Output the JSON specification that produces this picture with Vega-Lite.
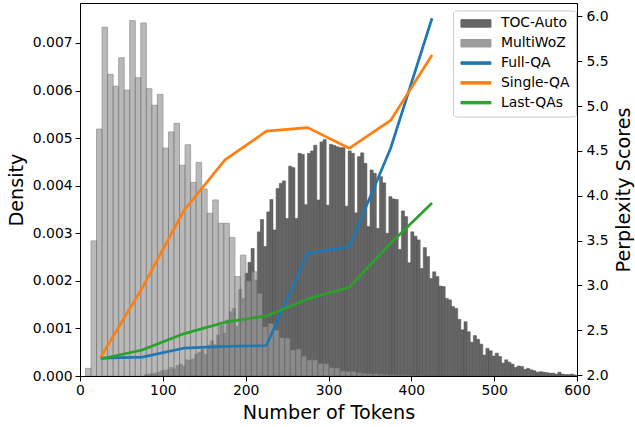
{
  "$schema": "https://vega.github.io/schema/vega-lite/v6.json",
  "width": 497,
  "height": 373,
  "autosize": {"type": "none"},
  "padding": {"left": 80, "top": 3, "right": 58, "bottom": 51},
  "background": "white",
  "config": {
    "font": "DejaVu Sans",
    "view": {"stroke": "black", "strokeWidth": 1},
    "axis": {
      "grid": false,
      "labelFont": "DejaVu Sans",
      "labelFontSize": 13.9,
      "labelColor": "black",
      "tickColor": "black",
      "tickSize": 4.9,
      "tickWidth": 1,
      "domainColor": "black",
      "domainWidth": 1,
      "titleFont": "DejaVu Sans",
      "titleFontSize": 19.2,
      "titleFontWeight": "normal",
      "titleColor": "black",
      "labelFlush": false,
      "labelOverlap": false,
      "labelBound": false
    },
    "legend": {
      "orient": "none", "legendX": 373, "legendY": 7.5, "title": null,
      "symbolSize": 100, "symbolType": "M-1,-0.75H5V0.75H-1Z",
      "labelOffset": 28, "rowPadding": 4.8, "padding": 6,
      "labelFont": "DejaVu Sans", "labelFontSize": 13.9, "labelColor": "black",
      "strokeColor": "#cccccc", "fillColor": "rgba(255,255,255,0.8)", "cornerRadius": 3
    }
  },
  "datasets": {
    "toc": [
      {"series":"TOC-Auto","x0":78.00,"x1":81.78,"density":0.00003},
      {"series":"TOC-Auto","x0":81.78,"x1":85.56,"density":0.00004},
      {"series":"TOC-Auto","x0":85.56,"x1":89.34,"density":0.00005},
      {"series":"TOC-Auto","x0":89.34,"x1":93.12,"density":0.00006},
      {"series":"TOC-Auto","x0":93.12,"x1":96.90,"density":0.00008},
      {"series":"TOC-Auto","x0":96.90,"x1":100.68,"density":0.00011},
      {"series":"TOC-Auto","x0":100.68,"x1":104.46,"density":0.00012},
      {"series":"TOC-Auto","x0":104.46,"x1":108.24,"density":0.00013},
      {"series":"TOC-Auto","x0":108.24,"x1":112.02,"density":0.00018},
      {"series":"TOC-Auto","x0":112.02,"x1":115.80,"density":0.00015},
      {"series":"TOC-Auto","x0":115.80,"x1":119.58,"density":0.00022},
      {"series":"TOC-Auto","x0":119.58,"x1":123.36,"density":0.00025},
      {"series":"TOC-Auto","x0":123.36,"x1":127.14,"density":0.00021},
      {"series":"TOC-Auto","x0":127.14,"x1":130.92,"density":0.00034},
      {"series":"TOC-Auto","x0":130.92,"x1":134.70,"density":0.00033},
      {"series":"TOC-Auto","x0":134.70,"x1":138.48,"density":0.00036},
      {"series":"TOC-Auto","x0":138.48,"x1":142.26,"density":0.00046},
      {"series":"TOC-Auto","x0":142.26,"x1":146.04,"density":0.00050},
      {"series":"TOC-Auto","x0":146.04,"x1":149.82,"density":0.00056},
      {"series":"TOC-Auto","x0":149.82,"x1":153.60,"density":0.00046},
      {"series":"TOC-Auto","x0":153.60,"x1":157.38,"density":0.00065},
      {"series":"TOC-Auto","x0":157.38,"x1":161.16,"density":0.00074},
      {"series":"TOC-Auto","x0":161.16,"x1":164.94,"density":0.00066},
      {"series":"TOC-Auto","x0":164.94,"x1":168.72,"density":0.00086},
      {"series":"TOC-Auto","x0":168.72,"x1":172.50,"density":0.00107},
      {"series":"TOC-Auto","x0":172.50,"x1":176.28,"density":0.00090},
      {"series":"TOC-Auto","x0":176.28,"x1":180.06,"density":0.00118},
      {"series":"TOC-Auto","x0":180.06,"x1":183.84,"density":0.00135},
      {"series":"TOC-Auto","x0":183.84,"x1":187.62,"density":0.00142},
      {"series":"TOC-Auto","x0":187.62,"x1":191.40,"density":0.00105},
      {"series":"TOC-Auto","x0":191.40,"x1":195.18,"density":0.00182},
      {"series":"TOC-Auto","x0":195.18,"x1":198.96,"density":0.00163},
      {"series":"TOC-Auto","x0":198.96,"x1":202.74,"density":0.00216},
      {"series":"TOC-Auto","x0":202.74,"x1":206.52,"density":0.00239},
      {"series":"TOC-Auto","x0":206.52,"x1":210.30,"density":0.00268},
      {"series":"TOC-Auto","x0":210.30,"x1":214.08,"density":0.00202},
      {"series":"TOC-Auto","x0":214.08,"x1":217.86,"density":0.00303},
      {"series":"TOC-Auto","x0":217.86,"x1":221.64,"density":0.00329},
      {"series":"TOC-Auto","x0":221.64,"x1":225.42,"density":0.00272},
      {"series":"TOC-Auto","x0":225.42,"x1":229.20,"density":0.00345},
      {"series":"TOC-Auto","x0":229.20,"x1":232.98,"density":0.00371},
      {"series":"TOC-Auto","x0":232.98,"x1":236.76,"density":0.00307},
      {"series":"TOC-Auto","x0":236.76,"x1":240.54,"density":0.00394},
      {"series":"TOC-Auto","x0":240.54,"x1":244.32,"density":0.00405},
      {"series":"TOC-Auto","x0":244.32,"x1":248.10,"density":0.00410},
      {"series":"TOC-Auto","x0":248.10,"x1":251.88,"density":0.00331},
      {"series":"TOC-Auto","x0":251.88,"x1":255.66,"density":0.00441},
      {"series":"TOC-Auto","x0":255.66,"x1":259.44,"density":0.00438},
      {"series":"TOC-Auto","x0":259.44,"x1":263.22,"density":0.00331},
      {"series":"TOC-Auto","x0":263.22,"x1":267.00,"density":0.00468},
      {"series":"TOC-Auto","x0":267.00,"x1":270.78,"density":0.00466},
      {"series":"TOC-Auto","x0":270.78,"x1":274.56,"density":0.00360},
      {"series":"TOC-Auto","x0":274.56,"x1":278.34,"density":0.00468},
      {"series":"TOC-Auto","x0":278.34,"x1":282.12,"density":0.00473},
      {"series":"TOC-Auto","x0":282.12,"x1":285.90,"density":0.00485},
      {"series":"TOC-Auto","x0":285.90,"x1":289.68,"density":0.00370},
      {"series":"TOC-Auto","x0":289.68,"x1":293.46,"density":0.00492},
      {"series":"TOC-Auto","x0":293.46,"x1":297.24,"density":0.00497},
      {"series":"TOC-Auto","x0":297.24,"x1":301.02,"density":0.00359},
      {"series":"TOC-Auto","x0":301.02,"x1":304.80,"density":0.00487},
      {"series":"TOC-Auto","x0":304.80,"x1":308.58,"density":0.00485},
      {"series":"TOC-Auto","x0":308.58,"x1":312.36,"density":0.00482},
      {"series":"TOC-Auto","x0":312.36,"x1":316.14,"density":0.00480},
      {"series":"TOC-Auto","x0":316.14,"x1":319.92,"density":0.00480},
      {"series":"TOC-Auto","x0":319.92,"x1":323.70,"density":0.00357},
      {"series":"TOC-Auto","x0":323.70,"x1":327.48,"density":0.00473},
      {"series":"TOC-Auto","x0":327.48,"x1":331.26,"density":0.00468},
      {"series":"TOC-Auto","x0":331.26,"x1":335.04,"density":0.00343},
      {"series":"TOC-Auto","x0":335.04,"x1":338.82,"density":0.00461},
      {"series":"TOC-Auto","x0":338.82,"x1":342.60,"density":0.00469},
      {"series":"TOC-Auto","x0":342.60,"x1":346.38,"density":0.00447},
      {"series":"TOC-Auto","x0":346.38,"x1":350.16,"density":0.00314},
      {"series":"TOC-Auto","x0":350.16,"x1":353.94,"density":0.00433},
      {"series":"TOC-Auto","x0":353.94,"x1":357.72,"density":0.00426},
      {"series":"TOC-Auto","x0":357.72,"x1":361.50,"density":0.00310},
      {"series":"TOC-Auto","x0":361.50,"x1":365.28,"density":0.00419},
      {"series":"TOC-Auto","x0":365.28,"x1":369.06,"density":0.00406},
      {"series":"TOC-Auto","x0":369.06,"x1":372.84,"density":0.00300},
      {"series":"TOC-Auto","x0":372.84,"x1":376.62,"density":0.00377},
      {"series":"TOC-Auto","x0":376.62,"x1":380.40,"density":0.00372},
      {"series":"TOC-Auto","x0":380.40,"x1":384.18,"density":0.00371},
      {"series":"TOC-Auto","x0":384.18,"x1":387.96,"density":0.00266},
      {"series":"TOC-Auto","x0":387.96,"x1":391.74,"density":0.00347},
      {"series":"TOC-Auto","x0":391.74,"x1":395.52,"density":0.00335},
      {"series":"TOC-Auto","x0":395.52,"x1":399.30,"density":0.00238},
      {"series":"TOC-Auto","x0":399.30,"x1":403.08,"density":0.00303},
      {"series":"TOC-Auto","x0":403.08,"x1":406.86,"density":0.00294},
      {"series":"TOC-Auto","x0":406.86,"x1":410.64,"density":0.00286},
      {"series":"TOC-Auto","x0":410.64,"x1":414.42,"density":0.00226},
      {"series":"TOC-Auto","x0":414.42,"x1":418.20,"density":0.00270},
      {"series":"TOC-Auto","x0":418.20,"x1":421.98,"density":0.00251},
      {"series":"TOC-Auto","x0":421.98,"x1":425.76,"density":0.00205},
      {"series":"TOC-Auto","x0":425.76,"x1":429.54,"density":0.00219},
      {"series":"TOC-Auto","x0":429.54,"x1":433.32,"density":0.00209},
      {"series":"TOC-Auto","x0":433.32,"x1":437.10,"density":0.00189},
      {"series":"TOC-Auto","x0":437.10,"x1":440.88,"density":0.00188},
      {"series":"TOC-Auto","x0":440.88,"x1":444.66,"density":0.00163},
      {"series":"TOC-Auto","x0":444.66,"x1":448.44,"density":0.00160},
      {"series":"TOC-Auto","x0":448.44,"x1":452.22,"density":0.00146},
      {"series":"TOC-Auto","x0":452.22,"x1":456.00,"density":0.00142},
      {"series":"TOC-Auto","x0":456.00,"x1":459.78,"density":0.00119},
      {"series":"TOC-Auto","x0":459.78,"x1":463.56,"density":0.00097},
      {"series":"TOC-Auto","x0":463.56,"x1":467.34,"density":0.00114},
      {"series":"TOC-Auto","x0":467.34,"x1":471.12,"density":0.00093},
      {"series":"TOC-Auto","x0":471.12,"x1":474.90,"density":0.00071},
      {"series":"TOC-Auto","x0":474.90,"x1":478.68,"density":0.00085},
      {"series":"TOC-Auto","x0":478.68,"x1":482.46,"density":0.00077},
      {"series":"TOC-Auto","x0":482.46,"x1":486.24,"density":0.00067},
      {"series":"TOC-Auto","x0":486.24,"x1":490.02,"density":0.00044},
      {"series":"TOC-Auto","x0":490.02,"x1":493.80,"density":0.00058},
      {"series":"TOC-Auto","x0":493.80,"x1":497.58,"density":0.00053},
      {"series":"TOC-Auto","x0":497.58,"x1":501.36,"density":0.00042},
      {"series":"TOC-Auto","x0":501.36,"x1":505.14,"density":0.00048},
      {"series":"TOC-Auto","x0":505.14,"x1":508.92,"density":0.00041},
      {"series":"TOC-Auto","x0":508.92,"x1":512.70,"density":0.00027},
      {"series":"TOC-Auto","x0":512.70,"x1":516.48,"density":0.00034},
      {"series":"TOC-Auto","x0":516.48,"x1":520.26,"density":0.00029},
      {"series":"TOC-Auto","x0":520.26,"x1":524.04,"density":0.00025},
      {"series":"TOC-Auto","x0":524.04,"x1":527.82,"density":0.00018},
      {"series":"TOC-Auto","x0":527.82,"x1":531.60,"density":0.00021},
      {"series":"TOC-Auto","x0":531.60,"x1":535.38,"density":0.00020},
      {"series":"TOC-Auto","x0":535.38,"x1":539.16,"density":0.00014},
      {"series":"TOC-Auto","x0":539.16,"x1":542.94,"density":0.00016},
      {"series":"TOC-Auto","x0":542.94,"x1":546.72,"density":0.00013},
      {"series":"TOC-Auto","x0":546.72,"x1":550.50,"density":0.00011},
      {"series":"TOC-Auto","x0":550.50,"x1":554.28,"density":0.00008},
      {"series":"TOC-Auto","x0":554.28,"x1":558.06,"density":0.00009},
      {"series":"TOC-Auto","x0":558.06,"x1":561.84,"density":0.00008},
      {"series":"TOC-Auto","x0":561.84,"x1":565.62,"density":0.00007},
      {"series":"TOC-Auto","x0":565.62,"x1":569.40,"density":0.00006},
      {"series":"TOC-Auto","x0":569.40,"x1":573.18,"density":0.00006},
      {"series":"TOC-Auto","x0":573.18,"x1":576.96,"density":0.00004},
      {"series":"TOC-Auto","x0":576.96,"x1":580.74,"density":0.00008},
      {"series":"TOC-Auto","x0":580.74,"x1":584.52,"density":0.00004},
      {"series":"TOC-Auto","x0":584.52,"x1":588.30,"density":0.00003},
      {"series":"TOC-Auto","x0":588.30,"x1":592.08,"density":0.00003},
      {"series":"TOC-Auto","x0":592.08,"x1":595.86,"density":0.00004},
      {"series":"TOC-Auto","x0":595.86,"x1":599.64,"density":0.00002}
    ],
    "mwoz": [
      {"series":"MultiWoZ","x0":6.60,"x1":13.28,"density":0.00016},
      {"series":"MultiWoZ","x0":13.28,"x1":19.96,"density":0.00284},
      {"series":"MultiWoZ","x0":19.96,"x1":26.64,"density":0.00519},
      {"series":"MultiWoZ","x0":26.64,"x1":33.32,"density":0.00733},
      {"series":"MultiWoZ","x0":33.32,"x1":40.00,"density":0.00634},
      {"series":"MultiWoZ","x0":40.00,"x1":46.68,"density":0.00609},
      {"series":"MultiWoZ","x0":46.68,"x1":53.36,"density":0.00669},
      {"series":"MultiWoZ","x0":53.36,"x1":60.04,"density":0.00601},
      {"series":"MultiWoZ","x0":60.04,"x1":66.72,"density":0.00747},
      {"series":"MultiWoZ","x0":66.72,"x1":73.40,"density":0.00627},
      {"series":"MultiWoZ","x0":73.40,"x1":80.08,"density":0.00742},
      {"series":"MultiWoZ","x0":80.08,"x1":86.76,"density":0.00604},
      {"series":"MultiWoZ","x0":86.76,"x1":93.44,"density":0.00569},
      {"series":"MultiWoZ","x0":93.44,"x1":100.12,"density":0.00592},
      {"series":"MultiWoZ","x0":100.12,"x1":106.80,"density":0.00479},
      {"series":"MultiWoZ","x0":106.80,"x1":113.48,"density":0.00513},
      {"series":"MultiWoZ","x0":113.48,"x1":120.16,"density":0.00531},
      {"series":"MultiWoZ","x0":120.16,"x1":126.84,"density":0.00443},
      {"series":"MultiWoZ","x0":126.84,"x1":133.52,"density":0.00486},
      {"series":"MultiWoZ","x0":133.52,"x1":140.20,"density":0.00407},
      {"series":"MultiWoZ","x0":140.20,"x1":146.88,"density":0.00449},
      {"series":"MultiWoZ","x0":146.88,"x1":153.56,"density":0.00393},
      {"series":"MultiWoZ","x0":153.56,"x1":160.24,"density":0.00342},
      {"series":"MultiWoZ","x0":160.24,"x1":166.92,"density":0.00370},
      {"series":"MultiWoZ","x0":166.92,"x1":173.60,"density":0.00321},
      {"series":"MultiWoZ","x0":173.60,"x1":180.28,"density":0.00321},
      {"series":"MultiWoZ","x0":180.28,"x1":186.96,"density":0.00291},
      {"series":"MultiWoZ","x0":186.96,"x1":193.64,"density":0.00209},
      {"series":"MultiWoZ","x0":193.64,"x1":200.32,"density":0.00254},
      {"series":"MultiWoZ","x0":200.32,"x1":207.00,"density":0.00200},
      {"series":"MultiWoZ","x0":207.00,"x1":213.68,"density":0.00219},
      {"series":"MultiWoZ","x0":213.68,"x1":220.36,"density":0.00174},
      {"series":"MultiWoZ","x0":220.36,"x1":227.04,"density":0.00104},
      {"series":"MultiWoZ","x0":227.04,"x1":233.72,"density":0.00111},
      {"series":"MultiWoZ","x0":233.72,"x1":240.40,"density":0.00097},
      {"series":"MultiWoZ","x0":240.40,"x1":247.08,"density":0.00081},
      {"series":"MultiWoZ","x0":247.08,"x1":253.76,"density":0.00080},
      {"series":"MultiWoZ","x0":253.76,"x1":260.44,"density":0.00055},
      {"series":"MultiWoZ","x0":260.44,"x1":267.12,"density":0.00057},
      {"series":"MultiWoZ","x0":267.12,"x1":273.80,"density":0.00042},
      {"series":"MultiWoZ","x0":273.80,"x1":280.48,"density":0.00034},
      {"series":"MultiWoZ","x0":280.48,"x1":287.16,"density":0.00034},
      {"series":"MultiWoZ","x0":287.16,"x1":293.84,"density":0.00027},
      {"series":"MultiWoZ","x0":293.84,"x1":300.52,"density":0.00026},
      {"series":"MultiWoZ","x0":300.52,"x1":307.20,"density":0.00018},
      {"series":"MultiWoZ","x0":307.20,"x1":313.88,"density":0.00017},
      {"series":"MultiWoZ","x0":313.88,"x1":320.56,"density":0.00011},
      {"series":"MultiWoZ","x0":320.56,"x1":327.24,"density":0.00010},
      {"series":"MultiWoZ","x0":327.24,"x1":333.92,"density":0.00010},
      {"series":"MultiWoZ","x0":333.92,"x1":340.60,"density":0.00007},
      {"series":"MultiWoZ","x0":340.60,"x1":347.28,"density":0.00006},
      {"series":"MultiWoZ","x0":347.28,"x1":353.96,"density":0.00005},
      {"series":"MultiWoZ","x0":353.96,"x1":360.64,"density":0.00005},
      {"series":"MultiWoZ","x0":360.64,"x1":367.32,"density":0.00004},
      {"series":"MultiWoZ","x0":367.32,"x1":374.00,"density":0.00003},
      {"series":"MultiWoZ","x0":374.00,"x1":380.68,"density":0.00003},
      {"series":"MultiWoZ","x0":380.68,"x1":387.36,"density":0.00002},
      {"series":"MultiWoZ","x0":387.36,"x1":394.04,"density":0.00002},
      {"series":"MultiWoZ","x0":394.04,"x1":400.72,"density":0.00002},
      {"series":"MultiWoZ","x0":400.72,"x1":407.40,"density":0.00001},
      {"series":"MultiWoZ","x0":407.40,"x1":414.08,"density":0.00001}
    ],
    "ppl": [
      {"series":"Full-QA","tokens":25,"ppl":2.19},
      {"series":"Full-QA","tokens":75,"ppl":2.20},
      {"series":"Full-QA","tokens":125,"ppl":2.30},
      {"series":"Full-QA","tokens":175,"ppl":2.32},
      {"series":"Full-QA","tokens":225,"ppl":2.33},
      {"series":"Full-QA","tokens":275,"ppl":3.36},
      {"series":"Full-QA","tokens":325,"ppl":3.43},
      {"series":"Full-QA","tokens":375,"ppl":4.53},
      {"series":"Full-QA","tokens":425,"ppl":5.98},
      {"series":"Single-QA","tokens":25,"ppl":2.20},
      {"series":"Single-QA","tokens":75,"ppl":2.97},
      {"series":"Single-QA","tokens":125,"ppl":3.83},
      {"series":"Single-QA","tokens":175,"ppl":4.40},
      {"series":"Single-QA","tokens":225,"ppl":4.72},
      {"series":"Single-QA","tokens":275,"ppl":4.76},
      {"series":"Single-QA","tokens":325,"ppl":4.53},
      {"series":"Single-QA","tokens":375,"ppl":4.84},
      {"series":"Single-QA","tokens":425,"ppl":5.57},
      {"series":"Last-QAs","tokens":25,"ppl":2.18},
      {"series":"Last-QAs","tokens":75,"ppl":2.28},
      {"series":"Last-QAs","tokens":125,"ppl":2.46},
      {"series":"Last-QAs","tokens":175,"ppl":2.59},
      {"series":"Last-QAs","tokens":225,"ppl":2.66},
      {"series":"Last-QAs","tokens":275,"ppl":2.85},
      {"series":"Last-QAs","tokens":325,"ppl":2.98},
      {"series":"Last-QAs","tokens":375,"ppl":3.47},
      {"series":"Last-QAs","tokens":425,"ppl":3.92}
    ]
  },
  "layer": [
    {
      "layer": [
        {
          "data": {"name": "toc"},
          "mark": {"type": "bar", "stroke": "#4d4d4d", "strokeWidth": 0.5, "opacity": 1, "clip": true},
          "encoding": {
            "x": {"field": "x0", "type": "quantitative", "scale": {"domain": [0, 600], "nice": false, "zero": false},
                  "axis": {"values": [0, 100, 200, 300, 400, 500, 600], "title": "Number of Tokens", "labelPadding": 3, "titlePadding": 6}},
            "x2": {"field": "x1"},
            "y": {"field": "density", "type": "quantitative", "scale": {"domain": [0, 0.00784], "nice": false},
                  "axis": {"orient": "left", "values": [0, 0.001, 0.002, 0.003, 0.004, 0.005, 0.006, 0.007], "format": ".3f", "title": "Density", "labelPadding": 3, "titlePadding": 6}},
            "y2": {"datum": 0},
            "color": {
              "field": "series", "type": "nominal",
              "scale": {"domain": ["TOC-Auto", "MultiWoZ", "Full-QA", "Single-QA", "Last-QAs"],
                        "range": ["#666666", "#9c9c9c", "#1f77b4", "#ff7f0e", "#2ca02c"]},
              "legend": {
                "encode": {"symbols": {"update": {
                  "shape": {"signal": "(datum.value === 'TOC-Auto' || datum.value === 'MultiWoZ') ? 'M-1,-0.75H5V0.75H-1Z' : 'M-1,-0.25H5V0.25H-1Z'"},
                  "fill": {"signal": "datum.value === 'TOC-Auto' ? '#6b6b6b' : datum.value === 'MultiWoZ' ? '#b5b5b5' : datum.value === 'Full-QA' ? '#1f77b4' : datum.value === 'Single-QA' ? '#ff7f0e' : '#2ca02c'"},
                  "stroke": {"signal": "datum.value === 'TOC-Auto' ? '#444444' : datum.value === 'MultiWoZ' ? '#555555' : 'transparent'"},
                  "strokeWidth": {"value": 1},
                  "opacity": {"value": 1},
                  "fillOpacity": {"value": 1},
                  "size": {"value": 100}
                }}}
              }
            }
          }
        },
        {
          "data": {"name": "mwoz"},
          "mark": {"type": "bar", "stroke": "#6a6a6a", "strokeWidth": 0.8, "opacity": 0.7, "clip": true},
          "encoding": {
            "x": {"field": "x0", "type": "quantitative"},
            "x2": {"field": "x1"},
            "y": {"field": "density", "type": "quantitative"},
            "y2": {"datum": 0},
            "color": {"field": "series", "type": "nominal",
              "legend": {
                "encode": {"symbols": {"update": {
                  "shape": {"signal": "(datum.value === 'TOC-Auto' || datum.value === 'MultiWoZ') ? 'M-1,-0.75H5V0.75H-1Z' : 'M-1,-0.25H5V0.25H-1Z'"},
                  "fill": {"signal": "datum.value === 'TOC-Auto' ? '#6b6b6b' : datum.value === 'MultiWoZ' ? '#b5b5b5' : datum.value === 'Full-QA' ? '#1f77b4' : datum.value === 'Single-QA' ? '#ff7f0e' : '#2ca02c'"},
                  "stroke": {"signal": "datum.value === 'TOC-Auto' ? '#444444' : datum.value === 'MultiWoZ' ? '#555555' : 'transparent'"},
                  "strokeWidth": {"value": 1},
                  "opacity": {"value": 1},
                  "fillOpacity": {"value": 1},
                  "size": {"value": 100}
                }}}
              }}
          }
        }
      ]
    },
    {
      "data": {"name": "ppl"},
      "mark": {"type": "line", "strokeWidth": 2.7, "strokeJoin": "round", "clip": true},
      "encoding": {
        "x": {"field": "tokens", "type": "quantitative"},
        "y": {"field": "ppl", "type": "quantitative", "scale": {"domain": [1.99, 6.15], "nice": false, "zero": false},
              "axis": {"orient": "right", "values": [2, 2.5, 3, 3.5, 4, 4.5, 5, 5.5, 6], "format": ".1f", "title": "Perplexity Scores", "titleAngle": 270, "titleBaseline": "top", "labelPadding": 4, "titlePadding": 7}},
        "color": {"field": "series", "type": "nominal",
          "legend": {
            "encode": {"symbols": {"update": {
              "shape": {"signal": "(datum.value === 'TOC-Auto' || datum.value === 'MultiWoZ') ? 'M-1,-0.75H5V0.75H-1Z' : 'M-1,-0.25H5V0.25H-1Z'"},
              "fill": {"signal": "datum.value === 'TOC-Auto' ? '#6b6b6b' : datum.value === 'MultiWoZ' ? '#b5b5b5' : datum.value === 'Full-QA' ? '#1f77b4' : datum.value === 'Single-QA' ? '#ff7f0e' : '#2ca02c'"},
              "stroke": {"signal": "datum.value === 'TOC-Auto' ? '#444444' : datum.value === 'MultiWoZ' ? '#555555' : 'transparent'"},
              "strokeWidth": {"value": 1},
              "opacity": {"value": 1},
              "fillOpacity": {"value": 1},
              "size": {"value": 100}
            }}}
          }}
      }
    }
  ],
  "resolve": {"scale": {"y": "independent"}}
}
